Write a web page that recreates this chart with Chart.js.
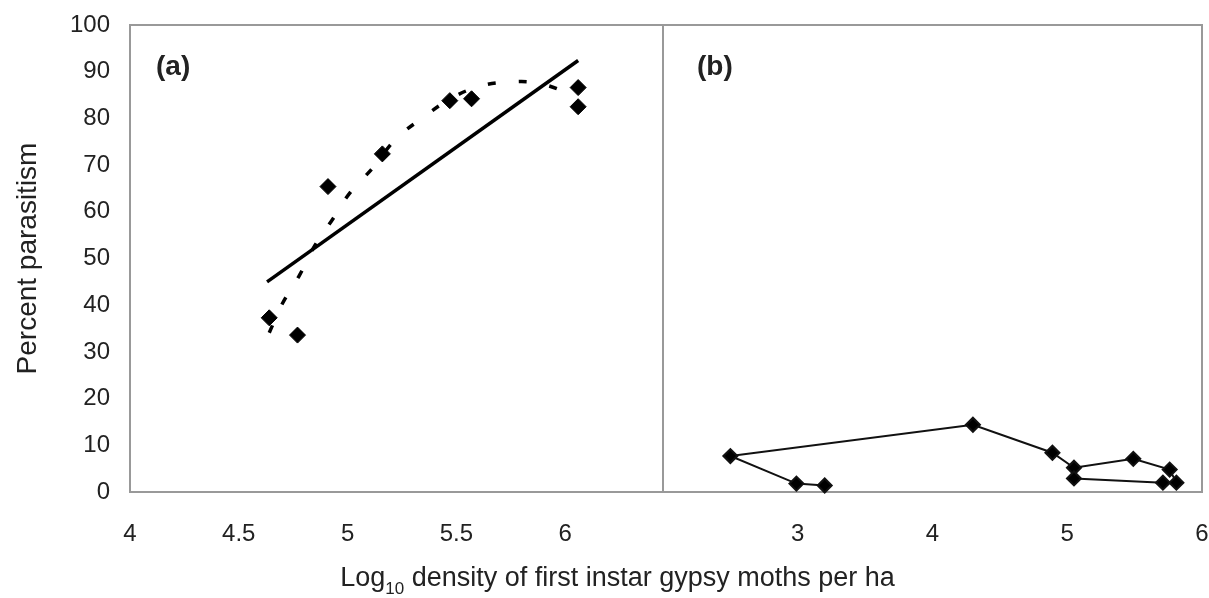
<!DOCTYPE html>
<html>
<head>
<meta charset="utf-8">
<script src="https://cdn.jsdelivr.net/npm/chart.js@4.4.1/dist/chart.umd.min.js"></script>
<style>
  html, body { margin: 0; padding: 0; background: #fff; overflow: hidden; }
  #wrap { position: relative; width: 1209px; height: 598px; overflow: hidden; }
  #chartA { position: absolute; left: 0; top: 0; }
  #chartB { position: absolute; left: 663px; top: 0; }
  #xTitle {
    position: absolute; left: 0; top: 562px; width: 1235px; text-align: center;
    font: 27px "Liberation Sans", Arial, sans-serif; color: #222; white-space: nowrap;
  }
  #xTitle sub { font-size: 17px; vertical-align: -8px; line-height: 0; }
</style>
</head>
<body>
<div id="wrap">
  <canvas id="chartA" width="664" height="598"></canvas>
  <canvas id="chartB" width="555" height="598"></canvas>
  <div id="xTitle">Log<sub>10</sub> density of first instar gypsy moths per ha</div>
</div>
<script>
// (a) observed points
const densityA = [4.64, 4.77, 4.91, 5.16, 5.47, 5.57, 6.06, 6.06];
const parasitismA = [37.3, 33.6, 65.4, 72.4, 83.8, 84.2, 86.6, 82.5];

// (a) straight fit line (solid)
const fitX = [4.63, 6.06];
const fitY = [45.0, 92.4];

// (a) curved trend (dashed)
const trendX = [4.64, 4.70, 4.78, 4.85, 4.93, 5.01, 5.12, 5.22, 5.35, 5.48, 5.61, 5.74, 5.88, 6.05];
const trendY = [34.1, 40.3, 46.5, 52.8, 58.3, 64.0, 69.6, 75.5, 80.3, 84.4, 86.9, 87.8, 87.5, 84.8];

// (b) points, in the order they are joined
const densityB = [3.20, 2.99, 2.50, 4.30, 4.89, 5.05, 5.49, 5.76, 5.81, 5.71, 5.05];
const parasitismB = [1.4, 1.8, 7.7, 14.4, 8.4, 5.2, 7.1, 4.8, 2.0, 2.0, 2.9];

// tick labels
const yTicks = [0, 10, 20, 30, 40, 50, 60, 70, 80, 90, 100];
const xTicksA = [4, 4.5, 5, 5.5, 6];
const xTicksB = [3, 4, 5, 6];

const FONT = '"Liberation Sans", Arial, sans-serif';
const TEXT = '#222';

const pts = (xs, ys) => xs.map((x, i) => ({ x: x, y: ys[i] }));

// grey box round the plot area + the panel letter
const framePlugin = {
  id: 'frame',
  beforeDatasetsDraw(chart, args, opts) {
    const { ctx, chartArea: a } = chart;
    ctx.save();
    ctx.strokeStyle = '#999';
    ctx.lineWidth = 2;
    ctx.strokeRect(a.left, a.top, a.right - a.left, a.bottom - a.top);
    ctx.fillStyle = TEXT;
    ctx.font = 'bold 28px ' + FONT;
    ctx.textBaseline = 'middle';
    ctx.fillText(opts.label, a.left + opts.dx, 67);
    ctx.restore();
  }
};

// keep chart.js from adding room for the end labels
const noPad = s => {
  s.paddingLeft = 0; s.paddingRight = 0; s.paddingTop = 0; s.paddingBottom = 0;
};

const xAxis = (min, max, ticks) => ({
  type: 'linear',
  min: min,
  max: max,
  afterBuildTicks: s => { s.ticks = ticks.map(v => ({ value: v })); },
  afterFit: s => { s.height = 106; noPad(s); },
  grid: { display: false, drawTicks: false },
  border: { display: false },
  ticks: {
    padding: 28, color: TEXT, font: { family: FONT, size: 24 }, maxRotation: 0,
    callback: v => String(v)
  }
});

Chart.defaults.animation = false;

new Chart(document.getElementById('chartA'), {
  type: 'scatter',
  data: {
    datasets: [
      {
        data: pts(densityA, parasitismA),
        pointStyle: 'rectRot', pointRadius: 8, borderWidth: 1,
        backgroundColor: '#000', borderColor: '#000', order: 0, clip: false
      },
      {
        data: pts(fitX, fitY), showLine: true, pointRadius: 0,
        borderColor: '#000', borderWidth: 3.5, order: 1, clip: false
      },
      {
        data: pts(trendX, trendY), showLine: true, pointRadius: 0, tension: 0.4,
        borderColor: '#000', borderWidth: 3.5, borderDash: [8, 23], order: 2, clip: false
      }
    ]
  },
  options: {
    responsive: false,
    layout: { autoPadding: false, padding: { top: 25, right: 1, bottom: 0, left: 0 } },
    plugins: {
      legend: { display: false },
      tooltip: { enabled: false },
      frame: { label: '(a)', dx: 26 }
    },
    scales: {
      x: xAxis(4, 6.45, xTicksA),
      y: {
        min: 0, max: 100,
        afterBuildTicks: s => { s.ticks = yTicks.map(v => ({ value: v })); },
        afterFit: s => { s.width = 130; noPad(s); },
        grid: { display: false, drawTicks: false },
        border: { display: false },
        ticks: { padding: 20, color: TEXT, font: { family: FONT, size: 24 } },
        title: {
          display: true, text: 'Percent parasitism', color: TEXT,
          font: { family: FONT, size: 28 }, padding: { top: 11, bottom: 0 }
        }
      }
    }
  },
  plugins: [framePlugin]
});

new Chart(document.getElementById('chartB'), {
  type: 'scatter',
  data: {
    datasets: [
      {
        data: pts(densityB, parasitismB), showLine: true,
        pointStyle: 'rectRot', pointRadius: 7, borderWidth: 2,
        backgroundColor: '#000', borderColor: '#111', clip: false
      }
    ]
  },
  options: {
    responsive: false,
    layout: { autoPadding: false, padding: { top: 25, right: 16, bottom: 0, left: 0 } },
    plugins: {
      legend: { display: false },
      tooltip: { enabled: false },
      frame: { label: '(b)', dx: 34 }
    },
    scales: {
      x: xAxis(2, 6, xTicksB),
      y: { display: false, min: 0, max: 100 }
    }
  },
  plugins: [framePlugin]
});
</script>
</body>
</html>
